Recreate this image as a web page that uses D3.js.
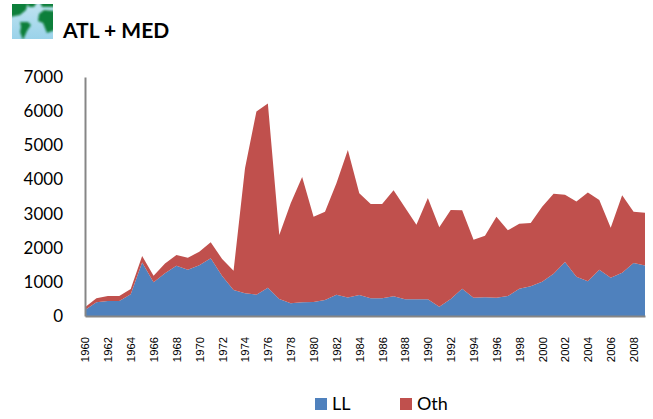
<!DOCTYPE html>
<html>
<head>
<meta charset="utf-8">
<script src="https://cdn.jsdelivr.net/npm/d3@7"></script>
<style>
  html, body { margin: 0; padding: 0; background: #fff; }
  svg { display: block; }
</style>
</head>
<body>
<div id="chart"></div>
<script>
const years = d3.range(1960, 2010);
const llValues = [175, 400, 440, 440, 634, 1570, 985, 1250, 1474, 1357,
  1483, 1690, 1170, 760, 664, 625, 830, 500, 370, 400,
  410, 470, 625, 545, 615, 517, 517, 575, 490, 490,
  490, 270, 500, 800, 537, 547, 537, 585, 800, 870,
  1005, 1240, 1580, 1150, 1015, 1357, 1120, 1270, 1550, 1480];
const othValues = [79, 117, 145, 145, 156, 187, 195, 290, 312, 351,
  397, 467, 500, 567, 3660, 5365, 5397, 1870, 2930, 3670,
  2498, 2585, 3260, 4315, 2977, 2763, 2763, 3105, 2690, 2184,
  2965, 2326, 2604, 2294, 1698, 1805, 2371, 1923, 1903, 1853,
  2195, 2342, 1972, 2207, 2605, 2039, 1466, 2263, 1505, 1545];
const yTicks = [0, 1000, 2000, 3000, 4000, 5000, 6000, 7000];
const xTicks = d3.range(1960, 2010, 2);
const seriesNames = ['LL', 'Oth'];
const seriesCols = ['#4f81bd', '#c0504d'];

const w = 653, h = 419;
const x0 = 85, x1 = 645, y0 = 316, y1 = 77;
const axisCol = '#868686';
const fontBody = 'Lato, "Open Sans", sans-serif';

const rows = years.map((year, i) => ({ year, LL: llValues[i], Oth: othValues[i] }));
const stacked = d3.stack().keys(seriesNames)(rows);

const xScale = d3.scaleLinear().domain([1960, 2009]).range([x0, x1]);
const yScale = d3.scaleLinear().domain([0, 7000]).range([y0, y1]);

const svg = d3.select('#chart')
  .append('svg')
  .attr('width', w)
  .attr('height', h);

// small globe picture next to the title
const defs = svg.append('defs');
const globeGrad = defs.append('linearGradient')
  .attr('id', 'globeSea')
  .attr('x1', 0).attr('y1', 0).attr('x2', 0).attr('y2', 1);
globeGrad.append('stop').attr('offset', 0).attr('stop-color', '#bfe3f0');
globeGrad.append('stop').attr('offset', 1).attr('stop-color', '#9ad2ea');
defs.append('clipPath').attr('id', 'globeClip')
  .append('rect').attr('width', 41).attr('height', 35);
defs.append('filter').attr('id', 'globeBlur')
  .append('feGaussianBlur').attr('stdDeviation', 0.8);

const globe = svg.append('g')
  .attr('transform', 'translate(12, 4)')
  .attr('clip-path', 'url(#globeClip)');
globe.append('rect')
  .attr('width', 41).attr('height', 35)
  .attr('fill', 'url(#globeSea)');
const landShapes = [
  'M-2,-2 L16,-2 L14,6 L8,11 L-2,13 Z',
  'M14,-2 L25,-2 L22,3 L17,3 Z',
  'M28,-2 L43,-2 L43,3 L30,3 Z',
  'M27,10 L32,6 L43,7 L43,26 L35,29 L31,19 L26,17 Z',
  'M8,18 L16,18 L19,21 L15,27 L11,36 L8,28 L9,23 Z'
];
globe.append('g')
  .attr('filter', 'url(#globeBlur)')
  .selectAll('path')
  .data(landShapes)
  .join('path')
  .attr('d', d => d)
  .attr('fill', '#0f7f3a');

svg.append('text')
  .attr('x', 63)
  .attr('y', 38)
  .style('font-family', fontBody)
  .style('font-size', '21px')
  .style('font-weight', '700')
  .style('fill', '#000')
  .text('ATL + MED');

const area = d3.area()
  .x(d => xScale(d.data.year))
  .y0(d => yScale(d[0]))
  .y1(d => yScale(d[1]));

svg.selectAll('path.layer')
  .data(stacked)
  .join('path')
  .attr('class', 'layer')
  .attr('d', area)
  .attr('fill', (d, i) => seriesCols[i]);

const yAxis = svg.append('g')
  .attr('transform', `translate(${x0}, 0)`)
  .call(d3.axisLeft(yScale).tickValues(yTicks).tickSize(0).tickPadding(22).tickFormat(d3.format('d')));
yAxis.selectAll('text')
  .style('font-family', fontBody)
  .style('font-size', '17px')
  .style('fill', '#000');

const xAxis = svg.append('g')
  .attr('transform', `translate(0, ${y0})`)
  .call(d3.axisBottom(xScale).tickValues(xTicks).tickSize(0).tickFormat(d3.format('d')));
xAxis.selectAll('text')
  .attr('transform', 'rotate(-90)')
  .attr('x', -21)
  .attr('y', 0)
  .attr('dy', '0.35em')
  .attr('text-anchor', 'end')
  .style('font-family', '"Liberation Sans", Arial, sans-serif')
  .style('font-size', '11.3px')
  .style('fill', '#000');

[yAxis, xAxis].forEach(axis => {
  axis.select('.domain')
    .attr('stroke', axisCol)
    .attr('stroke-width', 2);
});

const legendX = [315, 400];
const legend = svg.selectAll('g.legend')
  .data(seriesNames)
  .join('g')
  .attr('class', 'legend')
  .attr('transform', (d, i) => `translate(${legendX[i]}, 398)`);

legend.append('rect')
  .attr('width', 12)
  .attr('height', 12)
  .attr('fill', (d, i) => seriesCols[i]);

legend.append('text')
  .attr('x', 17)
  .attr('y', 12)
  .style('font-family', fontBody)
  .style('font-size', '18px')
  .style('fill', '#000')
  .text(d => d);
</script>
</body>
</html>
